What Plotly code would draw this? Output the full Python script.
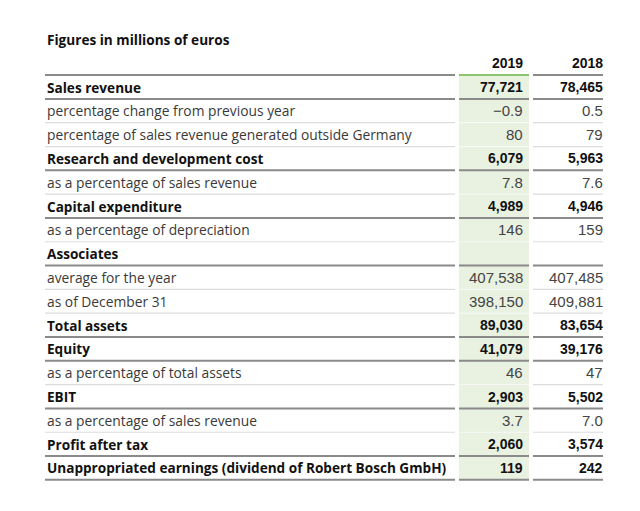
import plotly.graph_objects as go

title = "Figures in millions of euros"
years = ["2019", "2018"]
row_labels = [
    "Sales revenue",
    "percentage change from previous year",
    "percentage of sales revenue generated outside Germany",
    "Research and development cost",
    "as a percentage of sales revenue",
    "Capital expenditure",
    "as a percentage of depreciation",
    "Associates",
    "average for the year",
    "as of December 31",
    "Total assets",
    "Equity",
    "as a percentage of total assets",
    "EBIT",
    "as a percentage of sales revenue",
    "Profit after tax",
    "Unappropriated earnings (dividend of Robert Bosch GmbH)",
]
row_bold = [True, False, False, True, False, True, False, True, False, False,
            True, True, False, True, False, True, True]
values_2019 = [77721, -0.9, 80, 6079, 7.8, 4989, 146, None, 407538, 398150,
               89030, 41079, 46, 2903, 3.7, 2060, 119]
values_2018 = [78465, 0.5, 79, 5963, 7.6, 4946, 159, None, 407485, 409881,
               83654, 39176, 47, 5502, 7.0, 3574, 242]
decimals = [0, 1, 0, 0, 1, 0, 0, 0, 0, 0, 0, 0, 0, 0, 1, 0, 0]


def fmt(v, d):
    if v is None:
        return ""
    s = f"{abs(v):,.{d}f}"
    return ("\u2212" + s) if v < 0 else s


# layout geometry (x in page pixels, y in row units)
W, H = 640, 511
BODY = 8  # default page margin around the figure
LABEL_X0, LABEL_X1 = 45, 455
COL19_X0, COL19_X1 = 459, 529
COL18_X0, COL18_X1 = 533, 603
TEXT19_X, TEXT18_X = 525, 605
ROW_PX = 23.81
ROW0_PX = 87
y_top = (BODY - ROW0_PX) / ROW_PX
y_bot = (H - BODY - ROW0_PX) / ROW_PX

LABEL_FONT = "Open Sans, Noto Sans, sans-serif"
NUM_FONT = "Liberation Sans, Arial, sans-serif"
FS = 13.8
FSB = 13.6
NFS = 15
NFSB = 14
GREEN_BG = "#e9f1e1"
GREEN_LINE = "#8cc56c"
DARK_LINE = "#8a8a8a"
LIGHT_LINE = "#dcdcdc"

fig = go.Figure()
fig.add_trace(go.Scatter(x=[BODY, W - BODY], y=[0, 0], mode="markers",
                         marker=dict(opacity=0), hoverinfo="skip", showlegend=False))

shapes = []
shapes.append(dict(type="rect", xref="x", yref="y", x0=COL19_X0, x1=COL19_X1,
                   y0=-0.5, y1=len(row_labels) - 0.5, fillcolor=GREEN_BG,
                   line=dict(width=0), layer="below"))

segments = [(LABEL_X0, LABEL_X1), (COL19_X0, COL19_X1), (COL18_X0, COL18_X1)]
for i, (a, b) in enumerate(segments):
    shapes.append(dict(type="line", xref="x", yref="y", x0=a, x1=b, y0=-0.5, y1=-0.5,
                       line=dict(color=GREEN_LINE if i == 1 else DARK_LINE, width=2)))
for r, bold in enumerate(row_bold):
    yy = r + 0.5
    for i, (a, b) in enumerate(segments):
        if bold:
            col, wd = DARK_LINE, 2
        else:
            col, wd = ("#f6f8f3" if i == 1 else LIGHT_LINE), 1.2
        shapes.append(dict(type="line", xref="x", yref="y", x0=a, x1=b, y0=yy, y1=yy,
                           line=dict(color=col, width=wd)))

annotations = []
annotations.append(dict(x=LABEL_X0, y=-2, xref="x", yref="y", text=f"<b>{title}</b>",
                        showarrow=False, xanchor="left", yanchor="middle",
                        font=dict(family=LABEL_FONT, size=FSB, color="#111111")))
for txt, xx in zip(years, [TEXT19_X, TEXT18_X]):
    annotations.append(dict(x=xx, y=-1, xref="x", yref="y", text=f"<b>{txt}</b>",
                            showarrow=False, xanchor="right", yanchor="middle",
                            font=dict(family=NUM_FONT, size=NFSB, color="#111111")))
for r, lab in enumerate(row_labels):
    b = row_bold[r]
    annotations.append(dict(x=LABEL_X0, y=r, xref="x", yref="y",
                            text=f"<b>{lab}</b>" if b else lab,
                            showarrow=False, xanchor="left", yanchor="middle",
                            font=dict(family=LABEL_FONT, size=FSB if b else FS,
                                      color="#111111" if b else "#3a3a3a")))
    for vals, xx in [(values_2019, TEXT19_X), (values_2018, TEXT18_X)]:
        s = fmt(vals[r], decimals[r])
        if not s:
            continue
        annotations.append(dict(x=xx, y=r, xref="x", yref="y",
                                text=f"<b>{s}</b>" if b else s,
                                showarrow=False, xanchor="right", yanchor="middle",
                                font=dict(family=NUM_FONT, size=NFSB if b else NFS,
                                          color="#111111" if b else "#444444")))

annotations.append(dict(x=608, y=len(row_labels) + 0.95, xref="x", yref="y", text="格隆汇",
                        showarrow=False, xanchor="center", yanchor="middle",
                        font=dict(family="Noto Sans CJK SC", size=13, color="#d9d9d9")))

fig.update_layout(
    width=W - 2 * BODY, height=H - 2 * BODY,
    margin=dict(l=0, r=0, t=0, b=0),
    paper_bgcolor="white", plot_bgcolor="white",
    xaxis=dict(range=[BODY, W - BODY], visible=False, fixedrange=True),
    yaxis=dict(range=[y_bot, y_top], visible=False, fixedrange=True),
    shapes=shapes, annotations=annotations, showlegend=False,
)
fig.write_html("out.html")
